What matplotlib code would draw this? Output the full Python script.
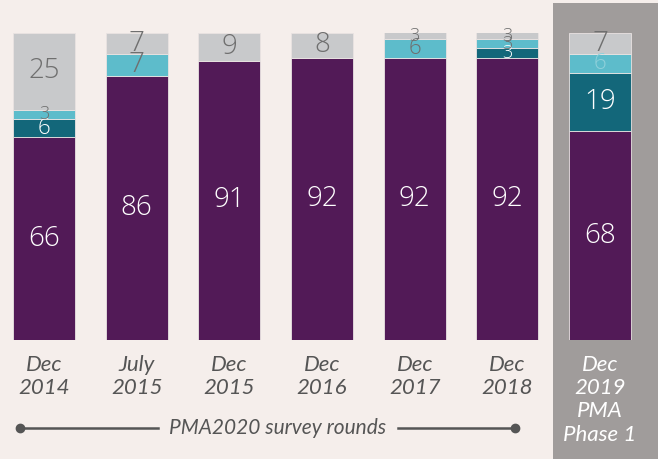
import matplotlib.pyplot as plt
from matplotlib.patches import Rectangle
from matplotlib.lines import Line2D

rounds = ['Dec\n2014', 'July\n2015', 'Dec\n2015', 'Dec\n2016', 'Dec\n2017', 'Dec\n2018', 'Dec\n2019\nPMA\nPhase 1']
purple_vals = [66, 86, 91, 92, 92, 92, 68]
dark_vals = [6, 0, 0, 0, 0, 3, 19]
light_vals = [3, 7, 0, 0, 6, 3, 6]
gray_vals = [25, 7, 9, 8, 3, 3, 7]

bg = '#f5eeeb'
c_purple = '#521a57'
c_dark = '#13677a'
c_light = '#5dbccb'
c_gray = '#c8c9cb'
txt_gray = '#6f6f6f'

fig = plt.figure(figsize=(6.58, 4.59), dpi=100)
fig.patch.set_facecolor(bg)

# grey panel behind the Phase 1 column
panel = Rectangle((553 / 658, 0), 105 / 658, 456 / 459,
                  transform=fig.transFigure, facecolor='#a09c9b',
                  edgecolor='none', zorder=-5)
fig.patches.append(panel)

ax = fig.add_axes([0, 119 / 459, 1, 307 / 459])
ax.set_zorder(2)
ax.patch.set_alpha(0)
x = list(range(len(rounds)))

series = [
    (purple_vals, c_purple, 'white'),
    (dark_vals, c_dark, 'white'),
    (light_vals, c_light, txt_gray),
    (gray_vals, c_gray, txt_gray),
]

bottoms = [0] * len(x)
for vals, col, tcol in series:
    ax.bar(x, vals, bottom=bottoms, width=0.67, color=col,
           edgecolor='#e9e3e2', linewidth=0.6)
    for i, v in enumerate(vals):
        if v == 0:
            continue
        top = min(bottoms[i] + v, 100)
        yc = (bottoms[i] + top) / 2
        size = 20 if v > 6 else (16 if v > 3 else 13)
        c = tcol
        if i == 6 and col == c_light:
            c = '#8fd0da'
        ax.text(i, yc, str(v), ha='center', va='center', fontsize=size,
                color=c, family='Open Sans', fontweight='light')
    bottoms = [b + v for b, v in zip(bottoms, vals)]

ax.set_xlim(-0.475, 6.625)
ax.set_ylim(0, 100)
ax.axis('off')

# x labels
for i, lab in enumerate(rounds):
    c = 'white' if i == 6 else '#555555'
    ax.text(i, -4.8, lab, ha='center', va='top', fontsize=16, style='italic',
            color=c, family='Lato', linespacing=1.21, clip_on=False)

# survey rounds bracket
yb = (459 - 428) / 459
fig.add_artist(Line2D([20 / 658, 158 / 658], [yb, yb], color='#555555', lw=1.8))
fig.add_artist(Line2D([398 / 658, 515 / 658], [yb, yb], color='#555555', lw=1.8))
fig.add_artist(Line2D([20 / 658], [yb], marker='o', ms=6, color='#555555'))
fig.add_artist(Line2D([515 / 658], [yb], marker='o', ms=6, color='#555555'))
fig.text(278 / 658, yb, 'PMA2020 survey rounds', ha='center', va='center',
         fontsize=15, style='italic', color='#555555', family='Lato')

fig.savefig('out.png', dpi=100, facecolor=bg)
